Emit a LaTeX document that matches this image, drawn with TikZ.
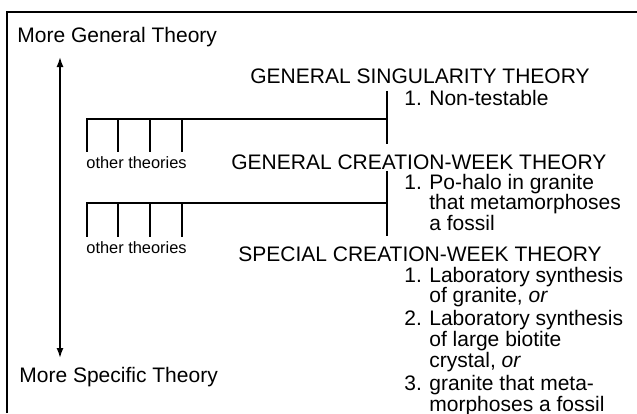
\documentclass[tikz,border=0pt]{standalone}
\usepackage{fontspec}
\setmainfont{Liberation Sans}
\usetikzlibrary{arrows.meta}

\tikzset{
    txt/.style={anchor=west, inner sep=0pt, font=\fontsize{10.5}{10}\selectfont},
    small/.style={anchor=west, inner sep=0pt, font=\fontsize{8.2}{8}\selectfont},
    items/.style={anchor=base west, inner sep=0pt, font=\fontsize{10.5}{9.6}\selectfont},
    comb/.style={line width=0.8pt},
}

\begin{document}
\begin{tikzpicture}[x=0.5pt, y=-0.5pt]
    \useasboundingbox (0,0) rectangle (637,413);
    % frame (cut on the right and at the foot)
    \draw[line width=1pt] (7,413) -- (7,12) -- (637,12);

    % scale of generality
    \node[txt] (gen) at (17,37) {More General Theory};
    \node[txt] (spec) at (19,377) {More Specific Theory};
    \coordinate (axtop) at (60,57);
    \coordinate (axbot) at (60,358);
    \draw[line width=0.8pt, {Latex[length=5pt,width=3.5pt]}-{Latex[length=5pt,width=3.5pt]}] (axtop) -- (axbot);

    % theories
    \node[txt] (sing) at (250,76) {GENERAL SINGULARITY THEORY};
    \node[txt] (crea) at (231,162) {GENERAL CREATION-WEEK THEORY};
    \node[txt] (spcl) at (238,254.5) {SPECIAL CREATION-WEEK THEORY};

    \node[items] (tst1) at (404,105) {\begin{tabular}[t]{@{}p{12.5pt}@{}l@{}}
        1. & Non-testable
    \end{tabular}};
    \node[items] (tst2) at (404,189) {\begin{tabular}[t]{@{}p{12.5pt}@{}l@{}}
        1. & Po-halo in granite\\
           & that metamorphoses\\
           & a fossil
    \end{tabular}};
    \node[items] (tst3) at (404,282) {\begin{tabular}[t]{@{}p{12.5pt}@{}l@{}}
        1. & Laboratory synthesis\\
           & of granite, \textit{or}\\[0.8pt]
        2. & Laboratory synthesis\\
           & of large biotite\\
           & crystal, \textit{or}\\[0.8pt]
        3. & granite that meta-\\
           & morphoses a fossil
    \end{tabular}};

    % branchings
    \coordinate (jn1) at (387,119);
    \coordinate (jn2) at (387,203);
    \draw[comb, shorten <=3.5pt, shorten >=5pt] (sing.south -| jn1) -- (crea.north -| jn1);
    \draw[comb, shorten <=0.5pt, shorten >=5.3pt] (crea.south -| jn2) -- (spcl.north -| jn2);
    \draw[comb] (jn1) -| (87,152);
    \draw[comb] (jn2) -| (87,237);
    \foreach \tx in {118,150,182} {
        \draw[comb] (\tx,119) -- (\tx,152);
        \draw[comb] (\tx,203) -- (\tx,237);
    }
    \node[small] (oth1) at (86,163) {other theories};
    \node[small] (oth2) at (86,248) {other theories};
\end{tikzpicture}
\end{document}
